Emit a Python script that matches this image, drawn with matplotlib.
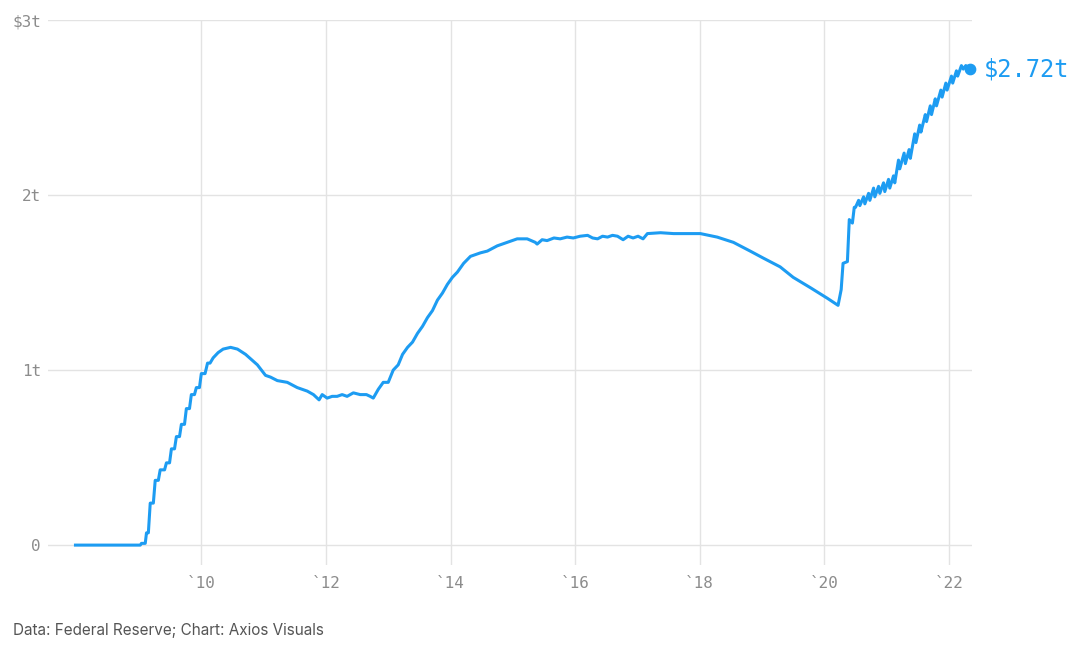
import matplotlib.pyplot as plt

# Fed holdings of mortgage-backed securities, trillions of dollars
years = [
    2007.98, 2009.02, 2009.04, 2009.10, 2009.12, 2009.15, 2009.18, 2009.23, 2009.26, 2009.31,
    2009.34, 2009.41, 2009.44, 2009.49, 2009.52, 2009.57, 2009.60, 2009.65, 2009.68, 2009.73,
    2009.76, 2009.81, 2009.84, 2009.89, 2009.92, 2009.97, 2010.00, 2010.06, 2010.10, 2010.14,
    2010.19, 2010.27, 2010.35, 2010.47, 2010.58, 2010.71, 2010.90, 2011.03, 2011.11, 2011.22,
    2011.38, 2011.54, 2011.70, 2011.80, 2011.89, 2011.94, 2012.02, 2012.10, 2012.18, 2012.26,
    2012.34, 2012.44, 2012.55, 2012.65, 2012.71, 2012.76, 2012.84, 2012.92, 2013.00, 2013.08,
    2013.16, 2013.23, 2013.31, 2013.39, 2013.47, 2013.55, 2013.63, 2013.71, 2013.79, 2013.87,
    2013.95, 2014.03, 2014.11, 2014.21, 2014.32, 2014.48, 2014.59, 2014.75, 2014.91, 2015.07,
    2015.23, 2015.36, 2015.39, 2015.47, 2015.55, 2015.66, 2015.76, 2015.87, 2015.97, 2016.08,
    2016.20, 2016.28, 2016.36, 2016.44, 2016.52, 2016.60, 2016.68, 2016.77, 2016.85, 2016.93,
    2017.01, 2017.09, 2017.16, 2017.37, 2017.58, 2017.80, 2018.01, 2018.28, 2018.54,
    2018.81, 2019.02, 2019.29, 2019.50, 2019.78, 2020.05, 2020.22, 2020.27, 2020.30, 2020.37,
    2020.40, 2020.45, 2020.48, 2020.50, 2020.55, 2020.57, 2020.63, 2020.65, 2020.71, 2020.73,
    2020.79, 2020.81, 2020.87, 2020.89, 2020.95, 2020.97, 2021.03, 2021.05, 2021.11, 2021.13,
    2021.19, 2021.21, 2021.28, 2021.30, 2021.36, 2021.38, 2021.45, 2021.47, 2021.53, 2021.55,
    2021.62, 2021.64, 2021.70, 2021.72, 2021.78, 2021.80, 2021.87, 2021.89, 2021.95, 2021.97,
    2022.04, 2022.06, 2022.12, 2022.14, 2022.20, 2022.23, 2022.27, 2022.34,
]
holdings = [
    0.00, 0.00, 0.01, 0.01, 0.07, 0.07, 0.24, 0.24, 0.37, 0.37,
    0.43, 0.43, 0.47, 0.47, 0.55, 0.55, 0.62, 0.62, 0.69, 0.69,
    0.78, 0.78, 0.86, 0.86, 0.90, 0.90, 0.98, 0.98, 1.04, 1.04,
    1.07, 1.10, 1.12, 1.13, 1.12, 1.09, 1.03, 0.97, 0.96, 0.94,
    0.93, 0.90, 0.88, 0.86, 0.83, 0.86, 0.84, 0.85, 0.85, 0.86,
    0.85, 0.87, 0.86, 0.86, 0.85, 0.84, 0.89, 0.93, 0.93, 1.00,
    1.03, 1.09, 1.13, 1.16, 1.21, 1.25, 1.30, 1.34, 1.40, 1.44,
    1.49, 1.53, 1.56, 1.61, 1.65, 1.67, 1.68, 1.71, 1.73, 1.75,
    1.75, 1.73, 1.72, 1.745, 1.74, 1.755, 1.75, 1.76, 1.755, 1.765,
    1.77, 1.755, 1.75, 1.765, 1.76, 1.77, 1.765, 1.745, 1.765, 1.755,
    1.765, 1.75, 1.78, 1.785, 1.78, 1.78, 1.78, 1.76, 1.73,
    1.68, 1.64, 1.59, 1.53, 1.47, 1.41, 1.37, 1.46, 1.61, 1.62,
    1.86, 1.84, 1.93, 1.93, 1.97, 1.94, 1.99, 1.95, 2.01, 1.97,
    2.04, 1.99, 2.05, 2.01, 2.07, 2.02, 2.09, 2.04, 2.11, 2.07,
    2.20, 2.15, 2.24, 2.18, 2.26, 2.21, 2.35, 2.30, 2.40, 2.36,
    2.46, 2.42, 2.51, 2.46, 2.55, 2.51, 2.60, 2.56, 2.64, 2.60,
    2.68, 2.64, 2.71, 2.68, 2.74, 2.72, 2.74, 2.72,
]

yticks = [0, 1, 2, 3]
ytick_labels = ["0", "1t", "2t", "$3t"]
xticks = [2010, 2012, 2014, 2016, 2018, 2020, 2022]
xtick_labels = ["`10", "`12", "`14", "`16", "`18", "`20", "`22"]
end_label = "$2.72t"

blue = "#1d9cf2"
grid = "#e3e3e3"
tick_color = "#8c8c8c"

fig = plt.figure(figsize=(10.75, 6.48), dpi=100)
ax = fig.add_axes([0.0447, 0.128, 0.8595, 0.841])

ax.plot(years, holdings, color=blue, linewidth=2.2, solid_joinstyle="round", zorder=3)
ax.scatter([years[-1]], [holdings[-1]], s=55, color=blue, zorder=4, clip_on=False)
ax.annotate(end_label, (years[-1], holdings[-1]), xytext=(10, 0), textcoords="offset points",
            ha="left", va="center", color=blue, fontsize=17, family="DejaVu Sans Mono",
            annotation_clip=False)

ax.set_xlim(2007.54, 2022.37)
ax.set_ylim(-0.114, 3.0)
ax.set_xticks(xticks)
ax.set_xticklabels(xtick_labels)
ax.set_yticks(yticks)
ax.set_yticklabels(ytick_labels)
ax.grid(True, color=grid, linewidth=1.0)
ax.set_axisbelow(True)
for s in ax.spines.values():
    s.set_visible(False)
ax.tick_params(length=0, colors=tick_color, labelsize=11.5, pad=5)
ax.tick_params(axis="x", pad=8)
for lbl in ax.get_xticklabels() + ax.get_yticklabels():
    lbl.set_family("DejaVu Sans Mono")

fig.text(0.012, 0.027, "Data: Federal Reserve; Chart: Axios Visuals", fontsize=11,
         color="#555555", family="Inter", ha="left", va="center")

fig.savefig("out.png", dpi=100)
